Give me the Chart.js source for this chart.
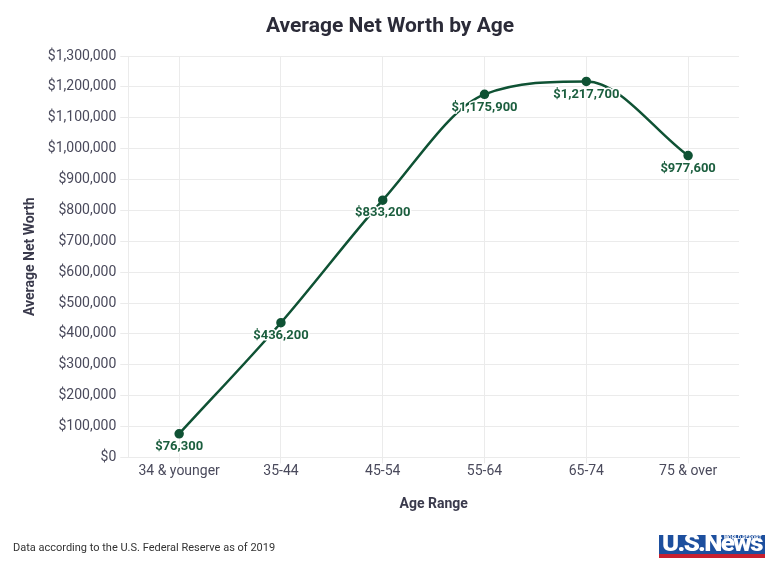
<!DOCTYPE html>
<html>
<head>
<meta charset="utf-8">
<script src="https://cdn.jsdelivr.net/npm/chart.js@4"></script>
<style>
  html, body { margin: 0; padding: 0; background: #fff; }
  #wrap { position: relative; width: 780px; height: 577px; overflow: hidden; }
  #c { position: absolute; left: 0; top: 0; }
  #title { position: absolute; left: 0; width: 780px; top: 13px; text-align: center; font: bold 21px Roboto, sans-serif; line-height: 25.2px; color: #2b2b38; }
  #note { position: absolute; left: 13px; top: 541px; font: 11px Roboto, sans-serif; color: #333; }
  #logo { position: absolute; left: 659px; top: 535px; width: 106px; height: 23px; }
  #logo .blue { position: absolute; left: 0; top: 0; width: 106px; height: 19px; background: #1d4f9e; }
  #logo .red { position: absolute; left: 0; top: 19px; width: 106px; height: 4px; background: #c8202f; }
  #logo .main { position: absolute; left: 3px; top: -4px; font: 900 23px Roboto, sans-serif; color: #fff; letter-spacing: -1.5px; transform-origin: 0 0; white-space: nowrap; line-height: 26px; }
  #logo .sub { position: absolute; left: 60px; top: 0px; font: bold 5px Roboto, sans-serif; color: #fff; transform-origin: 0 0; white-space: nowrap; line-height: 5px; }
</style>
</head>
<body>
<div id="wrap">
  <canvas id="c" width="780" height="577"></canvas>
  <div id="title">Average Net Worth by Age</div>
  <div id="note">Data according to the U.S. Federal Reserve as of 2019</div>
  <div id="logo"><div class="blue"></div><div class="red"></div><div class="main" id="lm">U.S.News</div><div class="sub" id="ls">&amp; WORLD REPORT</div></div>
</div>
<script>
const categories = ["34 & younger", "35-44", "45-54", "55-64", "65-74", "75 & over"];
const netWorth = [76300, 436200, 833200, 1175900, 1217700, 977600];
const yTickMax = 1300000;
const yTickStep = 100000;

const fmt = v => "$" + v.toLocaleString("en-US");

// fit logo texts
(function () {
  const m = document.getElementById("lm");
  m.style.transform = "scale(" + (100 / m.offsetWidth) + ",1)";
  const s = document.getElementById("ls");
  s.style.transform = "scale(" + (43 / s.offsetWidth) + ",1)";
})();

const valueLabels = {
  id: "valueLabels",
  afterDatasetsDraw(chart) {
    const ctx = chart.ctx;
    const meta = chart.getDatasetMeta(0);
    ctx.save();
    ctx.font = "bold 13px Roboto, sans-serif";
    ctx.textAlign = "center";
    ctx.textBaseline = "middle";
    ctx.lineJoin = "round";
    meta.data.forEach((pt, i) => {
      const t = fmt(chart.data.datasets[0].data[i]);
      ctx.lineWidth = 3;
      ctx.strokeStyle = "#ffffff";
      ctx.strokeText(t, pt.x, pt.y + 13);
      ctx.fillStyle = "#1b5e3e";
      ctx.fillText(t, pt.x, pt.y + 13);
    });
    ctx.restore();
  }
};

new Chart(document.getElementById("c"), {
  type: "line",
  data: {
    labels: categories,
    datasets: [{
      data: netWorth,
      borderColor: "#0f5234",
      backgroundColor: "#0f5234",
      borderWidth: 2.5,
      pointRadius: 3.5,
      pointHoverRadius: 3.5,
      cubicInterpolationMode: "monotone",
      fill: false
    }]
  },
  options: {
    responsive: false,
    animation: false,
    devicePixelRatio: 1,
    layout: { padding: { left: 18, right: 41, top: 56, bottom: 60 } },
    plugins: {
      legend: { display: false },
      tooltip: { enabled: false },
      title: { display: false }
    },
    scales: {
      x: {
        offset: true,
        grid: { color: "#ebebeb", tickLength: 6, offset: false },
        border: { color: "#ebebeb" },
        ticks: { color: "#4a4a5c", font: { family: "Roboto", size: 14 }, padding: 0 },
        title: {
          display: true, text: "Age Range", color: "#3a3a4c",
          font: { family: "Roboto", size: 14, weight: "bold" }, padding: { top: 16, bottom: 4 }
        }
      },
      y: {
        min: 0, max: yTickMax,
        grid: { color: "#ebebeb", tickLength: 8 },
        border: { color: "#ebebeb" },
        ticks: {
          stepSize: yTickStep, color: "#4a4a5c",
          font: { family: "Roboto", size: 14 }, padding: 4,
          callback: v => fmt(v)
        },
        title: {
          display: true, text: "Average Net Worth", color: "#3a3a4c",
          font: { family: "Roboto", size: 14, weight: "bold" }, padding: { top: 4, bottom: 5 }
        }
      }
    }
  },
  plugins: [valueLabels]
});
</script>
</body>
</html>
